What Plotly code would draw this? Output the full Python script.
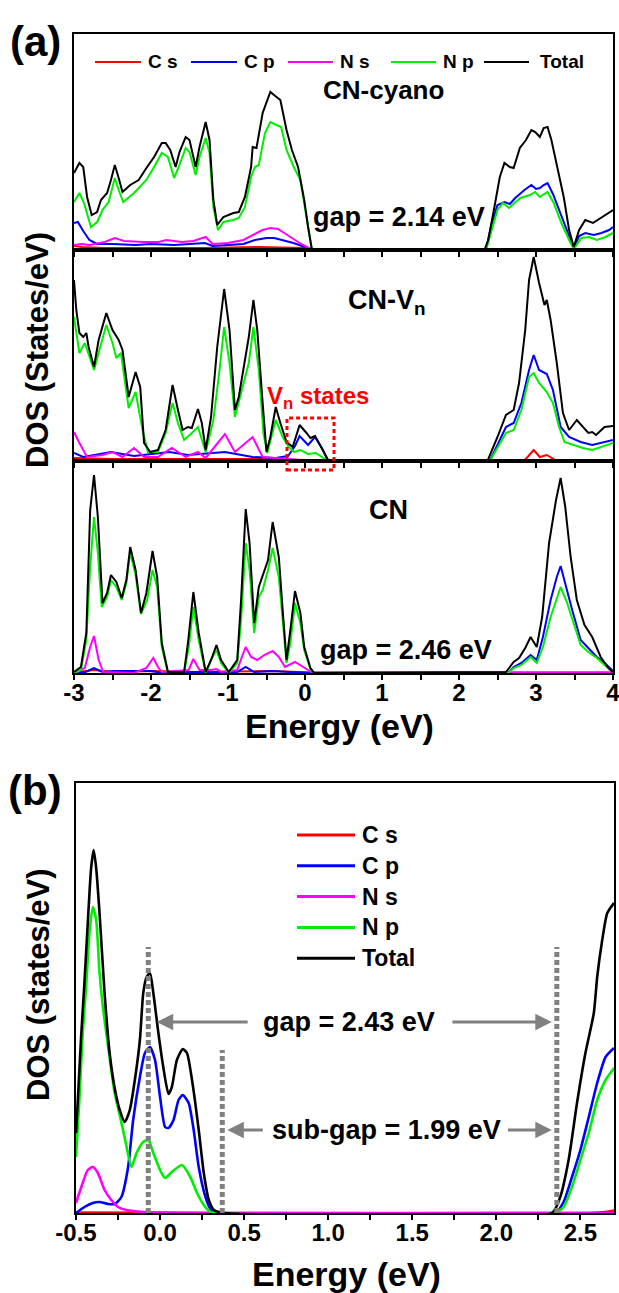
import plotly.graph_objects as go

W, H = 619, 1293

# ---------------- CN-cyano (top of panel a) ----------------
cyano_total_e = [-3.00, -2.93, -2.88, -2.83, -2.77, -2.70, -2.65, -2.57, -2.52, -2.47, -2.42, -2.37, -2.27, -2.16,
                 -2.06, -1.96, -1.86, -1.81, -1.75, -1.68, -1.63, -1.55, -1.50, -1.42, -1.37, -1.29, -1.24, -1.19,
                 -1.14, -1.06, -0.93, -0.86, -0.78, -0.70, -0.68, -0.63, -0.55, -0.45, -0.37, -0.32, -0.24, -0.17,
                 -0.09, -0.01, 0.04, 0.09,
                 2.33, 2.38, 2.46, 2.53, 2.59, 2.66, 2.71, 2.79, 2.87, 2.94, 2.99, 3.05, 3.10, 3.15, 3.20, 3.28,
                 3.36, 3.43, 3.49, 3.56, 3.64, 3.74, 3.84, 3.95, 4.00]
cyano_total = [7.7, 8.7, 8.3, 5.3, 3.5, 3.8, 5.0, 5.7, 7.0, 8.5, 7.2, 5.8, 6.5, 7.0,
               8.2, 9.3, 10.7, 10.7, 10.0, 8.3, 9.8, 11.3, 11.0, 8.3, 10.3, 12.8, 11.0, 5.0,
               2.5, 3.3, 3.7, 3.8, 5.3, 8.3, 10.3, 10.2, 13.7, 15.8, 15.3, 15.0, 12.0, 10.0,
               8.3, 5.0, 2.3, 0.0,
               0.0, 1.0, 4.3, 7.3, 8.7, 8.3, 8.2, 10.2, 11.0, 12.0, 11.8, 11.3, 12.2, 12.3, 11.0, 8.3,
               5.3, 2.0, 0.3, 2.0, 3.0, 2.7, 3.2, 3.8, 4.0]

cyano_np_e = [-3.00, -2.93, -2.87, -2.78, -2.70, -2.63, -2.55, -2.47, -2.42, -2.36, -2.22, -2.06, -1.96, -1.86,
              -1.78, -1.70, -1.63, -1.55, -1.50, -1.42, -1.37, -1.29, -1.24, -1.19, -1.13, -1.06, -0.93, -0.86,
              -0.78, -0.70, -0.65, -0.60, -0.52, -0.45, -0.37, -0.31, -0.24, -0.14, -0.06, -0.01, 0.05, 0.09,
              2.35, 2.42, 2.50, 2.57, 2.65, 2.72, 2.80, 2.92, 2.99, 3.05, 3.15, 3.23, 3.33, 3.43, 3.49, 3.59,
              3.69, 3.79, 3.90, 4.00]
cyano_np = [4.8, 5.7, 4.7, 2.3, 2.8, 4.0, 4.8, 7.2, 6.0, 4.8, 5.7, 7.0, 8.3, 9.7,
            9.3, 7.2, 8.5, 10.2, 9.8, 7.5, 9.3, 11.2, 9.7, 4.3, 2.0, 2.8, 3.0, 3.2,
            4.3, 7.3, 8.3, 8.5, 11.7, 12.8, 12.5, 12.3, 10.0, 8.2, 7.0, 4.7, 1.7, 0.0,
            0.0, 2.0, 4.0, 4.7, 4.2, 4.7, 5.2, 5.5, 5.8, 5.3, 5.8, 4.7, 2.7, 1.0, 0.1, 1.2,
            1.3, 1.0, 1.3, 1.7]

cyano_cp_e = [-3.00, -2.95, -2.88, -2.80, -2.70, -2.50, -2.20, -2.00, -1.70, -1.50, -1.30, -1.20, -1.00, -0.80,
              -0.65, -0.50, -0.40, -0.30, -0.15, 0.00, 0.09,
              2.35, 2.42, 2.50, 2.59, 2.66, 2.73, 2.85, 2.94, 3.00, 3.05, 3.10, 3.15, 3.22, 3.30, 3.40, 3.49,
              3.56, 3.64, 3.75, 3.85, 3.95, 4.00]
cyano_cp = [2.7, 2.8, 1.9, 1.0, 0.6, 0.6, 0.5, 0.6, 0.5, 0.6, 0.7, 0.4, 0.5, 0.6,
            1.0, 1.2, 1.2, 1.0, 0.7, 0.3, 0.0,
            0.0, 2.5, 4.5, 4.8, 4.6, 5.2, 6.0, 6.5, 6.1, 6.2, 6.5, 6.7, 5.6, 4.0, 1.8, 0.2,
            1.4, 1.7, 1.5, 1.7, 2.0, 2.3]

cyano_ns_e = [-3.00, -2.90, -2.80, -2.60, -2.47, -2.35, -2.10, -1.90, -1.80, -1.60, -1.45, -1.29, -1.20, -1.00,
              -0.80, -0.65, -0.55, -0.45, -0.35, -0.25, -0.15, -0.05, 0.05, 0.10, 4.00]
cyano_ns = [0.5, 0.6, 0.5, 0.8, 1.2, 0.9, 0.8, 0.8, 1.0, 0.8, 0.9, 1.3, 0.6, 0.7,
            1.0, 1.6, 2.0, 2.2, 2.1, 1.6, 1.1, 0.6, 0.2, 0.05, 0.05]

cyano_cs_e = [-3.00, -2.90, -2.60, -2.00, -1.30, -0.60, 0.00, 0.10, 4.00]
cyano_cs = [0.4, 0.3, 0.2, 0.2, 0.2, 0.3, 0.2, 0.05, 0.05]

# ---------------- CN-Vn (middle of panel a) ----------------
vn_total_e = [-3.00, -2.97, -2.93, -2.88, -2.84, -2.81, -2.74, -2.68, -2.58, -2.50, -2.42, -2.37, -2.29, -2.20,
              -2.14, -2.09, -2.01, -1.91, -1.81, -1.72, -1.65, -1.59, -1.52, -1.47, -1.39, -1.34, -1.29, -1.22,
              -1.14, -1.05, -0.98, -0.91, -0.86, -0.81, -0.73, -0.67, -0.62, -0.55, -0.50, -0.45, -0.38, -0.32,
              -0.24, -0.16, -0.07, 0.02, 0.07, 0.13, 0.21, 0.30, 0.35,
              2.37, 2.50, 2.61, 2.71, 2.78, 2.86, 2.91, 2.97, 3.04, 3.11, 3.14, 3.19, 3.27, 3.35, 3.43, 3.53,
              3.61, 3.68, 3.73, 3.78, 3.89, 4.00]
vn_total = [18.1, 15.1, 12.8, 12.4, 12.8, 11.4, 9.4, 12.1, 14.8, 13.1, 12.1, 11.1, 6.4, 8.9,
            7.4, 1.8, 0.9, 1.1, 3.1, 7.6, 5.1, 3.1, 3.4, 3.3, 5.2, 3.8, 1.1, 4.4,
            11.4, 17.2, 13.1, 5.1, 6.4, 8.8, 12.4, 16.1, 13.1, 5.8, 0.9, 2.4, 5.4, 3.8,
            1.9, 1.4, 3.6, 2.8, 2.3, 2.5, 1.4, 0.1, 0.0,
            0.0, 2.4, 4.6, 5.1, 7.8, 13.1, 18.1, 20.4, 17.8, 15.6, 16.1, 14.1, 9.8, 4.8, 3.1, 4.1,
            3.4, 2.8, 2.9, 2.6, 3.4, 3.5]

vn_np_e = [-3.00, -2.93, -2.86, -2.74, -2.67, -2.58, -2.50, -2.45, -2.39, -2.29, -2.20, -2.11, -2.04, -1.91,
           -1.81, -1.72, -1.65, -1.57, -1.47, -1.39, -1.29, -1.19, -1.11, -1.05, -0.98, -0.91, -0.81, -0.73,
           -0.67, -0.60, -0.54, -0.49, -0.38, -0.29, -0.21, -0.14, -0.06, 0.04, 0.14, 0.22, 0.30,
           2.40, 2.61, 2.71, 2.81, 2.91, 2.97, 3.04, 3.14, 3.22, 3.30, 3.37, 3.48, 3.61, 3.73, 3.84, 4.00]
vn_np = [14.4, 10.8, 11.8, 9.1, 11.1, 13.6, 11.8, 10.3, 10.8, 5.3, 6.9, 3.1, 0.9, 0.9,
         2.8, 5.8, 3.8, 2.1, 2.8, 3.4, 0.9, 4.1, 9.1, 13.4, 9.8, 4.4, 7.4, 9.8,
         13.4, 9.1, 2.8, 0.8, 4.1, 2.4, 1.4, 0.9, 1.1, 0.7, 0.8, 0.4, 0.0,
         0.0, 2.8, 3.1, 5.1, 8.4, 8.8, 7.8, 6.9, 5.8, 3.4, 1.9, 1.6, 1.3, 1.1, 1.4, 1.8]

vn_cp_e = [-3.00, -2.88, -2.52, -2.22, -1.76, -1.52, -1.04, -0.68, -0.38, -0.22, -0.13, -0.07, 0.04, 0.13,
           0.22, 0.30,
           2.40, 2.61, 2.71, 2.81, 2.91, 2.97, 3.04, 3.14, 3.22, 3.32, 3.43, 3.58, 3.73, 3.84, 4.00]
vn_cp = [0.8, 0.4, 0.9, 0.5, 0.9, 0.6, 0.9, 0.4, 0.3, 0.5, 1.5, 2.5, 1.6, 2.4,
         1.3, 0.0,
         0.0, 3.4, 3.8, 5.8, 9.1, 10.6, 9.1, 8.7, 7.1, 3.4, 2.4, 1.9, 1.6, 1.8, 2.1]

vn_ns_e = [-3.00, -2.93, -2.83, -2.63, -2.50, -2.37, -2.22, -2.09, -1.91, -1.73, -1.55, -1.39, -1.29, -1.04,
           -0.91, -0.68, -0.55, -0.42, -0.27, -0.07, 0.14, 4.00]
vn_ns = [2.9, 1.8, 0.4, 0.6, 0.9, 0.4, 1.3, 0.4, 0.4, 1.3, 0.4, 0.9, 0.3, 2.7,
         0.9, 2.4, 0.4, 0.3, 0.2, 0.1, 0.05, 0.05]

vn_cs_e = [-3.00, -2.50, -2.00, -1.50, -1.00, -0.50, 0.00, 0.30, 2.85, 2.92, 2.97, 3.05, 3.14, 3.25, 4.00]
vn_cs = [0.3, 0.2, 0.2, 0.2, 0.2, 0.2, 0.1, 0.05, 0.05, 0.6, 1.1, 0.4, 0.6, 0.1, 0.05]

# ---------------- CN (bottom of panel a) ----------------
cn_total_e = [-3.00, -2.91, -2.84, -2.79, -2.74, -2.69, -2.63, -2.57, -2.52, -2.45, -2.38, -2.32, -2.27, -2.20,
              -2.13, -2.06, -1.98, -1.92, -1.86, -1.78, -1.57, -1.52, -1.45, -1.38, -1.29, -1.22, -1.15, -1.09,
              -0.99, -0.88, -0.83, -0.77, -0.72, -0.66, -0.60, -0.55, -0.48, -0.42, -0.34, -0.29, -0.24, -0.19,
              -0.13, -0.06, -0.01, 0.07, 0.12,
              2.61, 2.71, 2.78, 2.86, 2.93, 3.01, 3.08, 3.17, 3.26, 3.32, 3.38, 3.45, 3.53, 3.63, 3.73, 3.84,
              3.94, 4.00]
cn_total = [0.1, 0.6, 4.0, 16.3, 19.8, 15.6, 7.0, 8.0, 9.8, 9.1, 7.5, 9.3, 12.6, 10.3,
            6.0, 8.0, 12.2, 9.6, 3.0, 0.1, 0.1, 3.0, 8.1, 4.0, 0.1, 1.3, 2.8, 1.3,
            0.1, 1.3, 7.3, 16.4, 13.0, 5.0, 8.6, 9.8, 11.3, 15.1, 11.6, 6.3, 1.3, 4.3,
            8.2, 6.0, 2.6, 0.5, 0.0,
            0.1, 1.1, 1.5, 2.5, 3.6, 2.6, 5.6, 13.0, 17.3, 19.5, 16.6, 11.6, 7.3, 4.8, 3.6, 1.6,
            0.5, 0.1]

cn_np_e = [-3.00, -2.91, -2.84, -2.79, -2.74, -2.69, -2.64, -2.57, -2.52, -2.45, -2.38, -2.32, -2.27, -2.20,
           -2.13, -2.05, -1.98, -1.92, -1.86, -1.78, -1.57, -1.51, -1.45, -1.38, -1.29, -1.22, -1.15, -1.09,
           -0.99, -0.88, -0.83, -0.77, -0.72, -0.66, -0.60, -0.55, -0.48, -0.42, -0.34, -0.29, -0.24, -0.19,
           -0.13, -0.06, -0.01, 0.07, 0.12,
           2.64, 2.71, 2.81, 2.93, 3.01, 3.09, 3.19, 3.27, 3.32, 3.40, 3.47, 3.58, 3.68, 3.79, 3.89, 4.00]
cn_np = [0.0, 0.3, 3.3, 10.6, 15.6, 12.0, 6.6, 7.6, 9.3, 8.6, 7.3, 9.0, 12.1, 9.8,
         5.9, 7.3, 10.3, 8.6, 2.6, 0.0, 0.0, 2.6, 6.6, 3.3, 0.0, 1.3, 2.3, 1.0,
         0.0, 1.0, 5.3, 13.0, 10.3, 4.0, 7.6, 8.3, 10.3, 12.5, 9.6, 5.3, 1.0, 3.0,
         7.0, 5.0, 2.3, 0.4, 0.0,
         0.0, 0.5, 0.8, 1.6, 1.0, 2.6, 5.6, 7.6, 8.6, 7.1, 5.5, 2.8, 2.1, 1.5, 0.8, 0.1]

cn_cp_e = [-3.00, -2.85, -2.74, -2.63, -2.50, -2.00, -1.85, -1.45, -0.88, -0.77, -0.66, -0.42, -0.20, 0.10,
           2.64, 2.71, 2.81, 2.93, 3.01, 3.09, 3.19, 3.27, 3.32, 3.40, 3.47, 3.58, 3.68, 3.79, 3.89, 4.00]
cn_cp = [0.0, 0.1, 0.5, 0.1, 0.2, 0.2, 0.0, 0.1, 0.1, 0.6, 0.1, 0.2, 0.1, 0.0,
         0.0, 0.6, 1.0, 1.8, 1.3, 3.6, 7.3, 9.6, 10.7, 8.3, 6.3, 3.3, 2.5, 1.6, 1.0, 0.2]

cn_ns_e = [-3.00, -2.86, -2.79, -2.74, -2.68, -2.62, -2.22, -2.06, -1.97, -1.91, -1.86, -1.51, -1.45, -1.37,
           -1.22, -1.15, -1.09, -0.88, -0.82, -0.77, -0.70, -0.62, -0.53, -0.42, -0.34, -0.26, -0.13, -0.06,
           0.04, 0.09, 4.00]
cn_ns = [0.0, 0.5, 2.6, 3.7, 1.3, 0.1, 0.0, 0.5, 1.5, 0.6, 0.1, 0.3, 1.4, 0.3,
         0.3, 0.4, 0.1, 0.3, 1.6, 2.6, 1.6, 1.3, 1.8, 2.2, 1.6, 0.6, 1.1, 0.8,
         0.3, 0.05, 0.05]

cn_cs_e = [-3.00, -2.74, -2.50, -1.98, -1.50, -0.42, 0.10, 4.00]
cn_cs = [0.05, 0.3, 0.1, 0.2, 0.1, 0.2, 0.05, 0.05]

# ---------------- panel b (zoom around the gap) ----------------
b_total_e = [-0.50, -0.49, -0.47, -0.45, -0.43, -0.41, -0.395, -0.38, -0.36, -0.33, -0.30, -0.27, -0.24, -0.21,
             -0.18, -0.15, -0.12, -0.10, -0.08, -0.06, -0.04, -0.01, 0.02, 0.05, 0.07, 0.10, 0.135, 0.16,
             0.19, 0.23, 0.26, 0.29, 0.32, 0.35, 0.38,
             2.33, 2.38, 2.43, 2.48, 2.53, 2.58, 2.60, 2.63, 2.66, 2.70]
b_total = [8.0, 11.0, 17.5, 23.0, 29.0, 34.5, 36.3, 34.5, 30.0, 22.0, 16.0, 12.5, 10.3, 9.1,
           10.3, 13.3, 17.3, 22.0, 23.6, 24.0, 22.0, 18.0, 14.5, 11.9, 12.6, 15.3, 16.4, 16.0,
           13.3, 8.3, 4.0, 1.3, 0.3, 0.1, 0.0,
           0.0, 1.6, 5.3, 11.0, 16.0, 20.0, 23.6, 27.3, 30.0, 31.0]

b_np_e = [-0.50, -0.48, -0.46, -0.44, -0.42, -0.40, -0.38, -0.36, -0.34, -0.30, -0.27, -0.24, -0.21, -0.17,
          -0.14, -0.10, -0.07, -0.04, 0.00, 0.03, 0.07, 0.13, 0.18, 0.22, 0.26, 0.30, 0.33,
          2.35, 2.40, 2.45, 2.50, 2.55, 2.60, 2.65, 2.70]
b_np = [5.6, 11.3, 18.0, 22.6, 28.0, 30.6, 29.3, 24.0, 20.6, 15.5, 12.0, 9.8, 7.5, 4.6,
        6.0, 7.1, 7.3, 6.0, 4.3, 3.5, 4.1, 4.8, 3.6, 2.0, 0.8, 0.1, 0.0,
        0.0, 0.6, 2.6, 5.3, 8.0, 11.3, 13.3, 14.5]

b_cp_e = [-0.50, -0.45, -0.40, -0.36, -0.31, -0.27, -0.23, -0.19, -0.16, -0.12, -0.09, -0.06, -0.03, 0.00,
          0.03, 0.05, 0.08, 0.11, 0.135, 0.17, 0.20, 0.23, 0.27, 0.30, 0.33,
          2.35, 2.40, 2.45, 2.50, 2.55, 2.60, 2.65, 2.70]
b_cp = [0.0, 0.6, 1.0, 1.1, 0.9, 0.9, 1.6, 4.6, 9.3, 13.6, 16.0, 16.6, 15.3, 11.6,
        8.6, 8.5, 9.3, 11.3, 11.8, 11.0, 8.3, 4.6, 1.6, 0.4, 0.0,
        0.0, 1.1, 3.6, 6.3, 9.6, 13.0, 15.6, 16.5]

b_ns_e = [-0.50, -0.46, -0.43, -0.40, -0.37, -0.33, -0.29, -0.25, -0.20, -0.10, 0.00, 0.30, 2.70]
b_ns = [1.0, 3.0, 4.3, 4.6, 4.0, 2.3, 1.3, 0.6, 0.3, 0.1, 0.05, 0.0, 0.0]

b_cs_e = [-0.50, 0.30, 2.55, 2.65, 2.70]
b_cs = [0.05, 0.0, 0.0, 0.1, 0.25]

# tick labels
a_ticks = [-3, -2, -1, 0, 1, 2, 3, 4]
a_ticktext = ["-3", "-2", "-1", "0", "1", "2", "3", "4"]
b_ticks = [-0.5, 0.0, 0.5, 1.0, 1.5, 2.0, 2.5]
b_ticktext = ["-0.5", "0.0", "0.5", "1.0", "1.5", "2.0", "2.5"]

# gap markers in panel b (eV)
cbm_edge = 2.36
gap_value = 2.43
subgap_value = 1.99

# series styling
names = ["C s", "C p", "N s", "N p", "Total"]
colors = ["#ff0000", "#0000ff", "#ff00ff", "#00ee00", "#000000"]

FONT = "Arial, Liberation Sans, sans-serif"


def py(v):
    return 1 - v / H


def px(v):
    return v / W


fig = go.Figure()

panels = [
    ("x", "y", [(cyano_cs_e, cyano_cs), (cyano_cp_e, cyano_cp), (cyano_ns_e, cyano_ns),
                (cyano_np_e, cyano_np), (cyano_total_e, cyano_total)], 2),
    ("x2", "y2", [(vn_cs_e, vn_cs), (vn_cp_e, vn_cp), (vn_ns_e, vn_ns),
                  (vn_np_e, vn_np), (vn_total_e, vn_total)], 2),
    ("x3", "y3", [(cn_cs_e, cn_cs), (cn_cp_e, cn_cp), (cn_ns_e, cn_ns),
                  (cn_np_e, cn_np), (cn_total_e, cn_total)], 2),
    ("x4", "y4", [(b_cs_e, b_cs), (b_cp_e, b_cp), (b_ns_e, b_ns),
                  (b_np_e, b_np), (b_total_e, b_total)], 2.6),
]

for xa, ya, series, lw in panels:
    for (e, d), name, col in zip(series, names, colors):
        shape = "spline" if xa == "x4" else "linear"
        fig.add_trace(go.Scatter(x=e, y=d, mode="lines", name=name, showlegend=False,
                                 line=dict(color=col, width=lw, shape=shape, smoothing=0.6),
                                 xaxis=xa, yaxis=ya, hoverinfo="skip"))

frame = dict(showline=True, mirror=True, linecolor="black", linewidth=2, showgrid=False, zeroline=False,
             automargin=False)
tickfont = dict(family=FONT, size=24, color="black", weight="bold")

xa_dom = [px(74), px(613)]
top_dom = [py(250), py(34)]
mid_dom = [py(461), py(250)]
bot_dom = [py(673), py(461)]
b_dom = [py(1213), py(783)]

a_minor = [-3 + 0.5 * i for i in range(15)]
b_minor = [-0.5 + 0.25 * i for i in range(13)]

xa_common = dict(range=[-3, 4], tickmode="array", tickvals=a_ticks, ticktext=a_ticktext,
                 ticks="outside", ticklen=5, tickwidth=2, tickcolor="black", ticklabelstandoff=-8,
                 ticklabeloverflow="allow",
                 minor=dict(tickvals=a_minor, ticks="outside", ticklen=5, tickwidth=2, tickcolor="black"),
                 tickfont=tickfont, **frame)
ya_common = dict(showticklabels=False, ticks="", **frame)

fig.update_layout(
    template="none",
    width=W, height=H, margin=dict(l=0, r=0, t=0, b=0, pad=0),
    paper_bgcolor="white", plot_bgcolor="white",
    xaxis=dict(domain=xa_dom, anchor="y", showticklabels=False, **xa_common),
    xaxis2=dict(domain=xa_dom, anchor="y2", showticklabels=False, **xa_common),
    xaxis3=dict(domain=xa_dom, anchor="y3", showticklabels=True, **xa_common),
    yaxis=dict(domain=top_dom, anchor="x", range=[0, 21.6], **ya_common),
    yaxis2=dict(domain=mid_dom, anchor="x2", range=[0, 21.1], **ya_common),
    yaxis3=dict(domain=bot_dom, anchor="x3", range=[0, 21.2], **ya_common),
    xaxis4=dict(domain=[px(76), px(614)], anchor="y4", range=[-0.5, 2.7], tickmode="array",
                tickvals=b_ticks, ticktext=b_ticktext, ticks="outside", ticklen=5, tickwidth=2,
                tickcolor="black", ticklabelstandoff=-8, ticklabeloverflow="allow",
                minor=dict(tickvals=b_minor, ticks="outside", ticklen=5, tickwidth=2, tickcolor="black"),
                tickfont=tickfont, **frame),
    yaxis4=dict(domain=b_dom, anchor="x4", range=[0, 43.0], **ya_common),
    showlegend=False,
)

ann = []


def text(x, y, s, size, color="black", xanchor="center", family=FONT, weight="bold", angle=0):
    ann.append(dict(x=px(x), y=py(y), xref="paper", yref="paper", text=s, showarrow=False,
                    xanchor=xanchor, yanchor="middle", textangle=angle,
                    font=dict(family=family, size=size, color=color, weight=weight)))


# panel labels and axis titles
text(35, 41, "(a)", 42)
text(35, 790, "(b)", 42)
text(340, 726, "Energy (eV)", 34)
text(346, 1274, "Energy (eV)", 34)
text(38, 350, "DOS (States/eV)", 31, angle=-90)
text(38, 985, "DOS (states/eV)", 31, angle=-90)

# in-panel labels
text(383, 90, "CN-cyano", 26)
text(399, 217, "gap = 2.14 eV", 27)
text(387, 302, "CN-V<sub>n</sub>", 27)
text(318, 397, "V<sub>n</sub> states", 24, color="#ff0000")
text(388, 510, "CN", 27)
text(406, 650, "gap = 2.46 eV", 27)
text(349, 1022, "gap = %.2f eV" % gap_value, 27)
text(387, 1130, "sub-gap = %.2f eV" % subgap_value, 27)

shapes = []

# legend of panel a (horizontal row)
leg_a = [(95, 141, 146), (191, 237, 242), (288, 333, 338), (391, 436, 441), (484, 529, 538)]
for (x0, x1, xt), name, col in zip(leg_a, names, colors):
    shapes.append(dict(type="line", xref="paper", yref="paper", x0=px(x0), x1=px(x1), y0=py(62), y1=py(62),
                       line=dict(color=col, width=2)))
    text(xt, 62, name, 19, xanchor="left")

# legend of panel b (vertical column)
for i, (name, col) in enumerate(zip(names, colors)):
    yy = 835 + i * 30.8
    shapes.append(dict(type="line", xref="paper", yref="paper", x0=px(297), x1=px(355), y0=py(yy), y1=py(yy),
                       line=dict(color=col, width=3)))
    text(360, yy, name, 23, xanchor="left")

# red dotted box around the vacancy states
shapes.append(dict(type="rect", xref="x2", yref="paper", x0=-0.234, x1=0.377, y0=py(470), y1=py(418),
                   line=dict(color="#ff0000", width=3, dash="4px,3px")))

# band-edge markers in panel b
vbm_edge = cbm_edge - gap_value
sub_edge = cbm_edge - subgap_value
for xe, top in [(vbm_edge, 26.6), (sub_edge, 16.3), (cbm_edge, 26.6)]:
    shapes.append(dict(type="line", xref="x4", yref="y4", x0=xe, x1=xe, y0=0, y1=top,
                       line=dict(color="#808080", width=5, dash="5px,3px")))

fig.update_layout(shapes=shapes)

# arrows
arrow = dict(xref="x4", yref="y4", axref="x4", ayref="y4", showarrow=True, text="",
             arrowhead=2, arrowsize=1.1, arrowwidth=3, arrowcolor="#808080")
ann.append(dict(x=vbm_edge + 0.05, y=19.1, ax=0.53, ay=19.1, **arrow))
ann.append(dict(x=cbm_edge - 0.03, y=19.1, ax=1.73, ay=19.1, **arrow))
ann.append(dict(x=sub_edge + 0.03, y=8.3, ax=0.62, ay=8.3, **arrow))
ann.append(dict(x=cbm_edge - 0.03, y=8.3, ax=2.06, ay=8.3, **arrow))

fig.update_layout(annotations=ann)

fig.write_html("out.html")
